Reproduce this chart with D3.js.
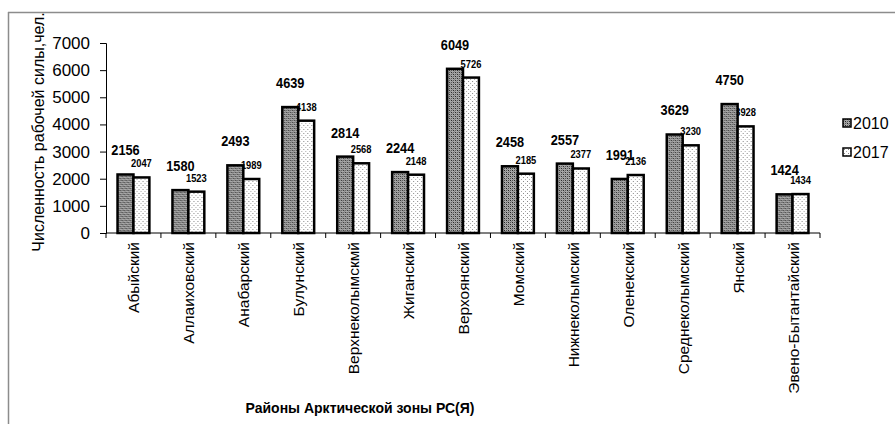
<!DOCTYPE html>
<html>
<head>
<meta charset="utf-8">
<script src="https://cdn.jsdelivr.net/npm/d3@7"></script>
<style>
  body { margin: 0; background: #fff; }
  text { font-family: "Liberation Sans", Arial, sans-serif; }
</style>
</head>
<body>
<svg id="chart" width="895" height="424"></svg>
<script>
// районы
var districts = ["Абыйский", "Аллаиховский", "Анабарский", "Булунский", "Верхнеколымскмй",
  "Жиганский", "Верхоянский", "Момский", "Нижнеколымский", "Оленекский",
  "Среднеколымский", "Янский", "Эвено-Бытантайский"];
var years = ["2010", "2017"];
var v2010 = [2156, 1580, 2493, 4639, 2814, 2244, 6049, 2458, 2557, 1991, 3629, 4750, 1424];
var v2017 = [2047, 1523, 1989, 4138, 2568, 2148, 5726, 2185, 2377, 2136, 3230, 3928, 1434];
var yTicks = [0, 1000, 2000, 3000, 4000, 5000, 6000, 7000];

var svg = d3.select("#chart");
var mLeft = 106, mRight = 820, mTop = 43, mBottom = 233;

// patterns
var defs = svg.append("defs");
var p1 = defs.append("pattern").attr("id", "pat2010")
  .attr("width", 4).attr("height", 4).attr("patternUnits", "userSpaceOnUse");
p1.append("rect").attr("width", 4).attr("height", 4).attr("fill", "#a8a8a8");
p1.append("rect").attr("x", 0).attr("y", 0).attr("width", 1).attr("height", 1).attr("fill", "#222");
p1.append("rect").attr("x", 2).attr("y", 2).attr("width", 1).attr("height", 1).attr("fill", "#222");
p1.append("rect").attr("x", 2).attr("y", 0).attr("width", 1).attr("height", 1).attr("fill", "#555");
p1.append("rect").attr("x", 0).attr("y", 2).attr("width", 1).attr("height", 1).attr("fill", "#555");
p1.append("rect").attr("x", 1).attr("y", 1).attr("width", 1).attr("height", 1).attr("fill", "#888");
p1.append("rect").attr("x", 3).attr("y", 3).attr("width", 1).attr("height", 1).attr("fill", "#888");
var p2 = defs.append("pattern").attr("id", "pat2017")
  .attr("width", 4).attr("height", 4).attr("patternUnits", "userSpaceOnUse");
p2.append("rect").attr("width", 4).attr("height", 4).attr("fill", "#fff");
p2.append("rect").attr("x", 1).attr("y", 1).attr("width", 1).attr("height", 1).attr("fill", "#888");
p2.append("rect").attr("x", 3).attr("y", 3).attr("width", 1).attr("height", 1).attr("fill", "#aaa");
var fills = {"2010": "url(#pat2010)", "2017": "url(#pat2017)"};

// frame
svg.append("line").attr("x1", 8).attr("x2", 895).attr("y1", 12.5).attr("y2", 12.5)
  .attr("stroke", "#8c8c8c").attr("stroke-width", 1.5);
svg.append("line").attr("x1", 8.5).attr("x2", 8.5).attr("y1", 12).attr("y2", 424)
  .attr("stroke", "#8c8c8c").attr("stroke-width", 1.5);

var x = d3.scaleBand().domain(districts).range([mLeft, mRight])
  .paddingInner(0.42).paddingOuter(0.21);
var xs = d3.scaleBand().domain(years).range([0, x.bandwidth()]);
var y = d3.scaleLinear().domain([0, 7000]).range([mBottom, mTop]);

// y axis
var yAxis = svg.append("g").attr("transform", "translate(" + mLeft + ",0)")
  .call(d3.axisLeft(y).tickValues(yTicks).tickFormat(d3.format("d")).tickSize(6).tickPadding(10));
yAxis.select(".domain").attr("stroke", "#000");
yAxis.selectAll("line").attr("stroke", "#000");
yAxis.selectAll("text").attr("font-size", 17).attr("fill", "#000")
  .style("font-family", "Liberation Sans, Arial, sans-serif");

svg.append("text")
  .attr("transform", "translate(44,132) rotate(-90)")
  .attr("text-anchor", "middle").attr("font-size", 16).attr("fill", "#000")
  .text("Численность рабочей силы,чел.");

var rows = districts.map(function(d, i) {
  return {name: d, vals: [{year: "2010", v: v2010[i]}, {year: "2017", v: v2017[i]}]};
});

// value labels (drawn under the bars)
var groups = svg.selectAll(".grp").data(rows).enter().append("g")
  .attr("transform", function(d) { return "translate(" + x(d.name) + ",0)"; });
groups.append("text")
  .attr("transform", function(d) {
    return "translate(" + (xs("2010") + xs.bandwidth() / 2) + "," + (y(d.vals[0].v) - 19) + ") scale(0.85,1)";
  })
  .attr("text-anchor", "middle").attr("font-size", 15).attr("font-weight", "bold")
  .text(function(d) { return d.vals[0].v; });
groups.append("text")
  .attr("transform", function(d) {
    return "translate(" + (xs("2017") + xs.bandwidth() / 2) + "," + (y(d.vals[1].v) - 10) + ") scale(0.85,1)";
  })
  .attr("text-anchor", "middle").attr("font-size", 11).attr("font-weight", "bold")
  .text(function(d) { return d.vals[1].v; });

// bars
groups.selectAll("rect").data(function(d) { return d.vals; }).enter().append("rect")
  .attr("x", function(d) { return xs(d.year); })
  .attr("y", function(d) { return y(d.v); })
  .attr("width", xs.bandwidth())
  .attr("height", function(d) { return mBottom - y(d.v); })
  .attr("fill", function(d) { return fills[d.year]; })
  .attr("stroke", "#000").attr("stroke-width", 2.5);

// x axis with ticks between categories
var xAx = svg.append("g");
xAx.append("line").attr("x1", mLeft).attr("x2", mRight).attr("y1", mBottom).attr("y2", mBottom)
  .attr("stroke", "#000");
var step = x.step();
xAx.selectAll(".tk").data(d3.range(districts.length + 1)).enter().append("line")
  .attr("x1", function(i) { return mLeft + i * step; })
  .attr("x2", function(i) { return mLeft + i * step; })
  .attr("y1", mBottom).attr("y2", mBottom + 5).attr("stroke", "#000");
xAx.selectAll(".lbl").data(districts).enter().append("text")
  .attr("transform", function(d) {
    return "translate(" + (x(d) + x.bandwidth() / 2 + 6) + "," + (mBottom + 9) + ") rotate(-90)";
  })
  .attr("text-anchor", "end").attr("font-size", 15.5).attr("fill", "#000")
  .text(function(d) { return d; });

svg.append("text").attr("x", 360).attr("y", 413).attr("text-anchor", "middle")
  .attr("font-size", 14).attr("font-weight", "bold")
  .text("Районы Арктической зоны РС(Я)");

// legend
var leg = svg.selectAll(".leg").data(years).enter().append("g")
  .attr("transform", function(d, i) { return "translate(843," + (123 + i * 29) + ")"; });
leg.append("rect").attr("x", 0).attr("y", -4).attr("width", 8).attr("height", 8)
  .attr("fill", function(d) { return fills[d]; })
  .attr("stroke", "#000").attr("stroke-width", 1.5);
leg.append("text").attr("x", 10).attr("y", 6).attr("font-size", 16).text(function(d) { return d; });
</script>
</body>
</html>
